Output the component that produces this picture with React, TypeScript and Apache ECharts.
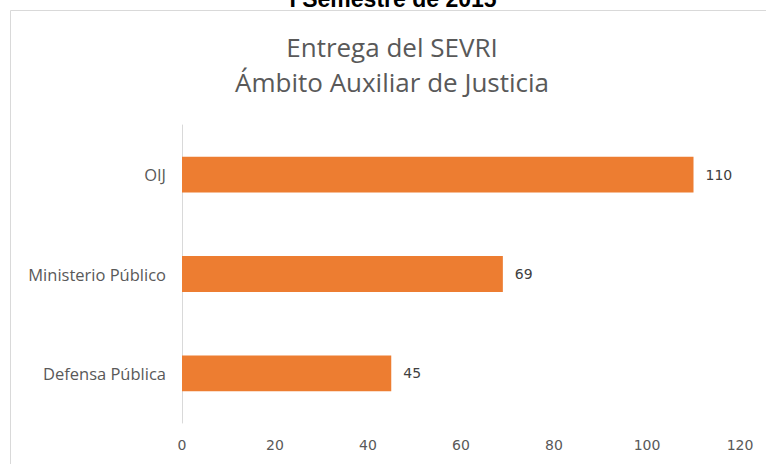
import React, { useEffect, useRef } from "react";
import * as echarts from "echarts";

const categories = ["Defensa Pública", "Ministerio Público", "OIJ"];
const values = [45, 69, 110];
const titleLines = ["Entrega del SEVRI", "Ámbito Auxiliar de Justicia"];
const topText = "I Semestre de 2015";
const xTicks = { min: 0, max: 120, interval: 20 };

export default function App() {
  const ref = useRef<HTMLDivElement>(null);
  useEffect(() => {
    if (!ref.current) return;
    const chart = echarts.init(ref.current, null, { renderer: "svg" });
    const font = "'Open Sans', 'Noto Sans', sans-serif";
    const numFont = "'DejaVu Sans', sans-serif";
    chart.setOption({
      animation: false,
      backgroundColor: "#ffffff",
      graphic: [
        {
          type: "rect",
          shape: { x: 10.5, y: 10.5, width: 800, height: 500 },
          style: { fill: "none", stroke: "#d9d9d9", lineWidth: 1 },
          z: 0,
        },
        {
          type: "text",
          x: 393,
          y: -1,
          style: {
            text: topText,
            fill: "#000000",
            font: "bold 23px 'Liberation Sans', Arial, sans-serif",
            textAlign: "center",
            textVerticalAlign: "middle",
          },
        },
        {
          type: "text",
          x: 392,
          y: 47,
          style: {
            text: titleLines[0],
            fill: "#595959",
            font: `26px ${font}`,
            textAlign: "center",
            textVerticalAlign: "middle",
          },
        },
        {
          type: "text",
          x: 392,
          y: 82,
          style: {
            text: titleLines[1],
            fill: "#595959",
            font: `26px ${font}`,
            textAlign: "center",
            textVerticalAlign: "middle",
          },
        },
      ],
      grid: { left: 182, right: 26, top: 125, bottom: 41, containLabel: false },
      xAxis: {
        type: "value",
        min: xTicks.min,
        max: xTicks.max,
        interval: xTicks.interval,
        axisLine: { show: false },
        axisTick: { show: false },
        splitLine: { show: false },
        axisLabel: { color: "#595959", fontSize: 14, fontFamily: numFont, margin: 15 },
      },
      yAxis: {
        type: "category",
        data: categories,
        axisLine: { show: true, lineStyle: { color: "#d9d9d9", width: 1 } },
        axisTick: { show: false },
        axisLabel: { color: "#595959", fontSize: 16.5, fontFamily: font, margin: 16 },
      },
      series: [
        {
          type: "bar",
          data: values,
          barCategoryGap: "64%",
          itemStyle: { color: "#ED7D31" },
          label: {
            show: true,
            position: "right",
            distance: 12,
            color: "#404040",
            fontSize: 14,
            fontFamily: numFont,
          },
        },
      ],
    });
    return () => chart.dispose();
  }, []);
  return (
    <div
      ref={ref}
      style={{ position: "fixed", left: 0, top: 0, width: 766, height: 464 }}
    />
  );
}
